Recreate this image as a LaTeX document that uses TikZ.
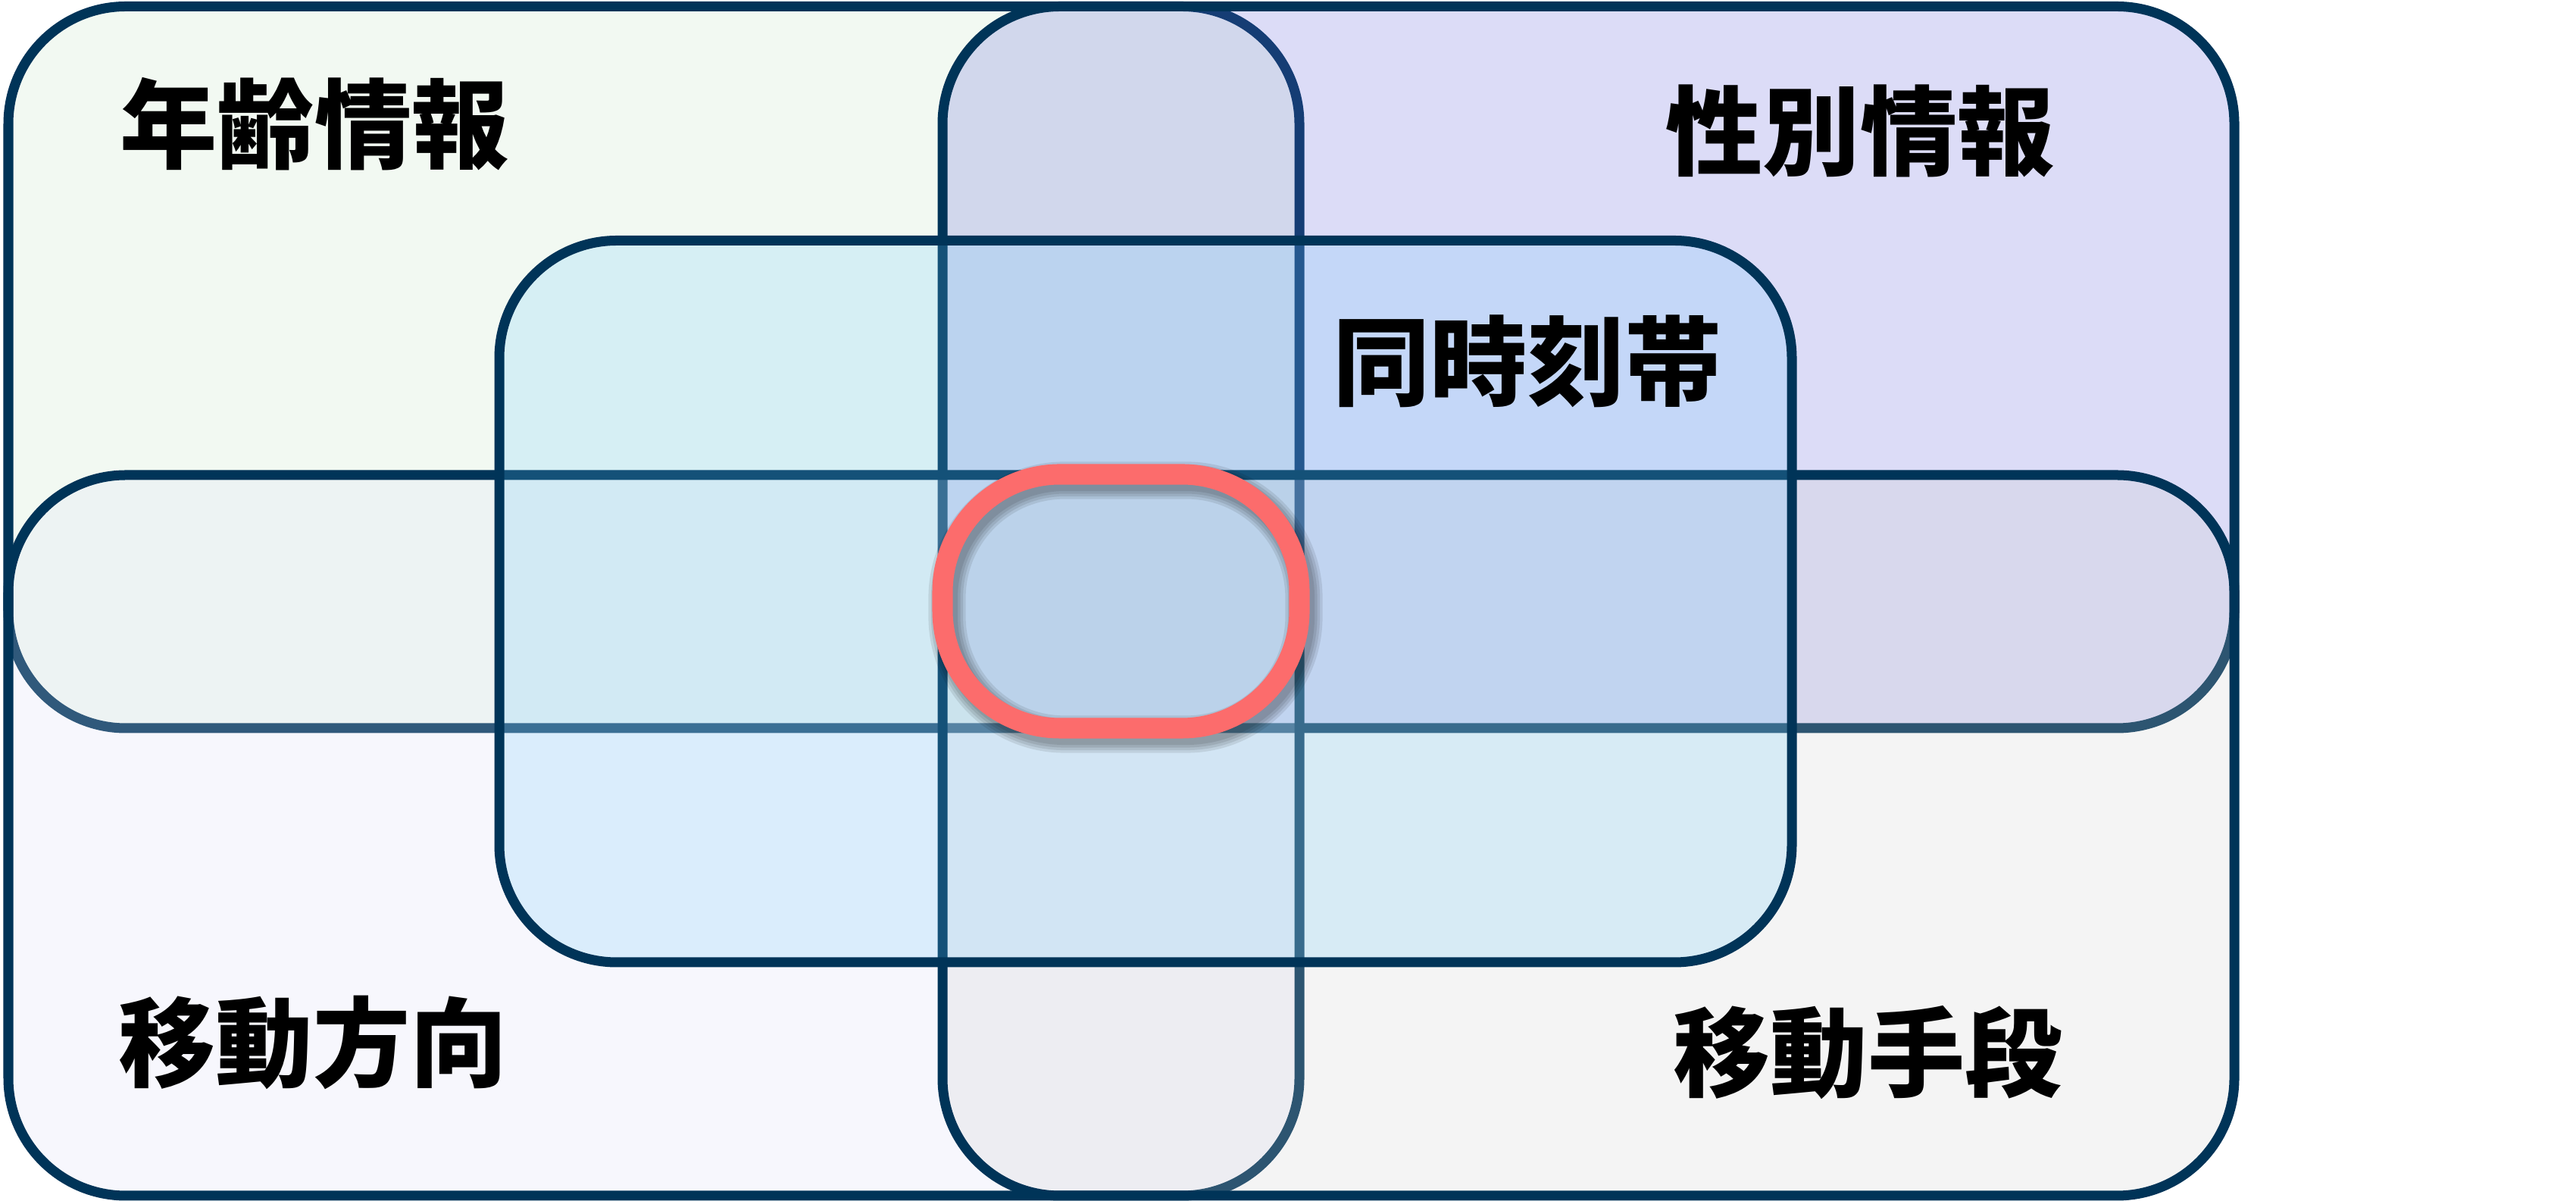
\documentclass[tikz,border=0pt]{standalone}
\usepackage{fontspec}
\newfontfamily\jpfont{Noto Sans CJK JP}
\definecolor{navy}{RGB}{0,52,88}
\definecolor{agegreen}{RGB}{200,232,200}
\definecolor{sexblue}{RGB}{96,96,219}
\definecolor{dirlav}{RGB}{222,222,248}
\definecolor{meansgray}{RGB}{205,205,205}
\definecolor{timeblue}{RGB}{102,199,252}
\definecolor{hilite}{RGB}{252,108,108}
\begin{document}
\begin{tikzpicture}[
  setbox/.style={draw=navy,line width=3.7pt,rounded corners=1.55cm,fill opacity=0.22},
  settext/.style={font=\jpfont\bfseries\fontsize{36.5}{40}\selectfont,text=black}]

\useasboundingbox (0,0) rectangle (34,15.85);
\fill[white] (0,0) rectangle (34,15.85);

\draw[setbox,fill=agegreen]  (0.11,6.24) rectangle (17.15,15.765);
\draw[setbox,fill=sexblue]   (12.44,6.24) rectangle (29.49,15.765);
\draw[setbox,fill=dirlav]    (0.11,0.07) rectangle (17.15,9.58);
\draw[setbox,fill=meansgray] (12.44,0.07) rectangle (29.49,9.58);
\draw[setbox,fill=timeblue,fill opacity=0.2] (6.59,3.15) rectangle (23.65,12.675);

\foreach \w in {8,10,12,14}
  \draw[black,opacity=0.09,line width=\w pt,rounded corners=1.55cm,shift={(0.06,-0.08)}] (12.44,6.24) rectangle (17.15,9.59);
\draw[hilite,line width=7.7pt,rounded corners=1.55cm] (12.44,6.24) rectangle (17.15,9.59);

\node[settext] (age)   at (4.15,14.21) {年齢情報};
\node[settext] (sex)   at (24.55,14.12) {性別情報};
\node[settext] (time)  at (20.16,11.08) {同時刻帯};
\node[settext] (dir)   at (4.13,2.09) {移動方向};
\node[settext] (means) at (24.65,1.96) {移動手段};
\end{tikzpicture}
\end{document}
